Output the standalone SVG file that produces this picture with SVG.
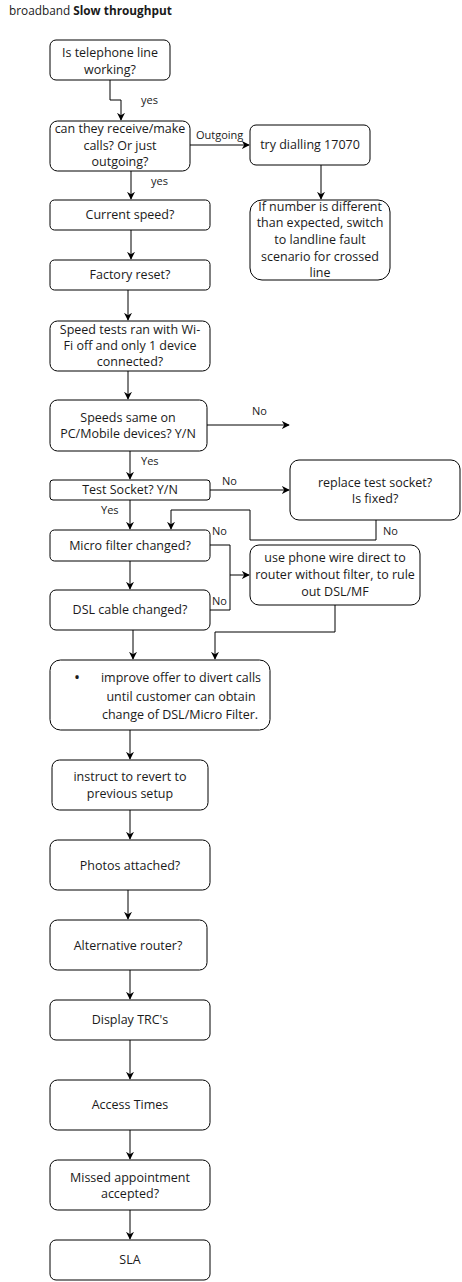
<svg xmlns="http://www.w3.org/2000/svg" width="462" height="1282" viewBox="0 0 462 1282">
<style>
.n rect{fill:#fff;stroke:#000;stroke-width:1}
text{font-family:"Open Sans","Noto Sans","Liberation Sans",sans-serif;font-size:12.5px;fill:#1a1a1a}
.c{text-anchor:middle}
.lbl{font-size:11px}
.e path{fill:none;stroke:#000;stroke-width:1;marker-end:url(#a)}
.e path.p{marker-end:none}
</style>
<defs>
<marker id="a" viewBox="0 0 10 10" refX="9" refY="5" markerWidth="8" markerHeight="8" markerUnits="userSpaceOnUse" orient="auto">
<path d="M0,0 L10,5 L0,10 L3,5 Z" fill="#000"/>
</marker>
</defs>
<text x="9" y="15" style="font-size:11.8px">broadband <tspan font-weight="bold">Slow throughput</tspan></text>

<g class="e" id="connectors">
<path d="M110,80 V100 H121 V120"/>
<path d="M131,171 V199"/>
<path d="M190,145 H249"/>
<path d="M321,165 V199"/>
<path d="M131,230 V259"/>
<path d="M128,290 V320"/>
<path d="M128,371 V399"/>
<path d="M207,425 H289"/>
<path d="M130,451 V479"/>
<path d="M210,490 H289"/>
<path d="M130,500 V529"/>
<path d="M376,520 V540 H250 V510 H171 V529"/>
<path d="M210,545 H230 V575 H249"/>
<path class="p" d="M210,610 H230 V575"/>
<path d="M130,561 V589"/>
<path d="M335,605 V632 H215 V659"/>
<path d="M133,630 V659"/>
<path d="M130,730 V759"/>
<path d="M130,810 V839"/>
<path d="M128,890 V919"/>
<path d="M130,970 V999"/>
<path d="M130,1040 V1079"/>
<path d="M130,1130 V1159"/>
<path d="M130,1210 V1239"/>
</g>
<g id="edge-labels">
<text class="lbl" x="141" y="104">yes</text>
<text class="lbl" x="151" y="185">yes</text>
<text class="lbl" x="196" y="139">Outgoing</text>
<text class="lbl" x="252" y="415">No</text>
<text class="lbl" x="141" y="465">Yes</text>
<text class="lbl" x="222" y="485">No</text>
<text class="lbl" x="101" y="514">Yes</text>
<text class="lbl" x="212" y="535">No</text>
<text class="lbl" x="383" y="535">No</text>
<text class="lbl" x="212" y="605">No</text>
</g>

<g class="n" id="n1"><rect x="50" y="40" width="120" height="40" rx="6"/>
<text class="c" x="110" y="57">Is telephone line</text><text class="c" x="110" y="74">working?</text></g>
<g class="n" id="n2"><rect x="50" y="121" width="140" height="50" rx="7.5"/>
<text class="c" x="120" y="133">can they receive/make</text><text class="c" x="120" y="150">calls? Or just</text><text class="c" x="120" y="166">outgoing?</text></g>
<g class="n" id="n3"><rect x="250" y="125" width="120" height="40" rx="6"/>
<text class="c" x="310" y="149">try dialling 17070</text></g>
<g class="n" id="n4"><rect x="250" y="200" width="140" height="80" rx="12"/>
<text class="c" x="320" y="211">If number is different</text><text class="c" x="320" y="227">than expected, switch</text><text class="c" x="320" y="244">to landline fault</text><text class="c" x="320" y="261">scenario for crossed</text><text class="c" x="320" y="277">line</text></g>
<g class="n" id="n5"><rect x="50" y="200" width="160" height="30" rx="4.5"/>
<text class="c" x="130" y="219">Current speed?</text></g>
<g class="n" id="n6"><rect x="50" y="260" width="160" height="30" rx="4.5"/>
<text class="c" x="130" y="279">Factory reset?</text></g>
<g class="n" id="n7"><rect x="50" y="321" width="160" height="50" rx="7.5"/>
<text class="c" x="130" y="334">Speed tests ran with Wi-</text><text class="c" x="130" y="350">Fi off and only 1 device</text><text class="c" x="130" y="366">connected?</text></g>
<g class="n" id="n8"><rect x="50" y="400" width="157" height="51" rx="7.5"/>
<text class="c" x="128" y="422">Speeds same on</text><text class="c" x="128" y="438">PC/Mobile devices? Y/N</text></g>
<g class="n" id="n9"><rect x="50" y="480" width="160" height="20" rx="3"/>
<text class="c" x="130" y="494">Test Socket? Y/N</text></g>
<g class="n" id="n10"><rect x="290" y="460" width="170" height="60" rx="9"/>
<text class="c" x="375" y="487">replace test socket?</text><text class="c" x="375" y="503">Is fixed?</text></g>
<g class="n" id="n11"><rect x="50" y="530" width="160" height="31" rx="4.5"/>
<text class="c" x="130" y="550">Micro filter changed?</text></g>
<g class="n" id="n12"><rect x="50" y="590" width="160" height="40" rx="6"/>
<text class="c" x="130" y="614">DSL cable changed?</text></g>
<g class="n" id="n13"><rect x="250" y="545" width="170" height="60" rx="9"/>
<text class="c" x="335" y="562">use phone wire direct to</text><text class="c" x="335" y="579">router without filter, to rule</text><text class="c" x="335" y="596">out DSL/MF</text></g>
<g class="n" id="n14"><rect x="50" y="660" width="220" height="70" rx="10.5"/>
<text x="74" y="683" style="font-size:16px">•</text>
<text class="c" x="181" y="682">improve offer to divert calls</text><text class="c" x="181" y="701">until customer can obtain</text><text class="c" x="180" y="719">change of DSL/Micro Filter.</text></g>
<g class="n" id="n15"><rect x="52" y="760" width="156" height="50" rx="7.5"/>
<text class="c" x="130" y="781">instruct to revert to</text><text class="c" x="130" y="798">previous setup</text></g>
<g class="n" id="n16"><rect x="50" y="840" width="160" height="50" rx="7.5"/>
<text class="c" x="130" y="870">Photos attached?</text></g>
<g class="n" id="n17"><rect x="50" y="920" width="157" height="50" rx="7.5"/>
<text class="c" x="128" y="950">Alternative router?</text></g>
<g class="n" id="n18"><rect x="50" y="1000" width="160" height="40" rx="6"/>
<text class="c" x="130" y="1024">Display TRC's</text></g>
<g class="n" id="n19"><rect x="50" y="1080" width="160" height="50" rx="7.5"/>
<text class="c" x="130" y="1109">Access Times</text></g>
<g class="n" id="n20"><rect x="50" y="1160" width="160" height="50" rx="7.5"/>
<text class="c" x="130" y="1182">Missed appointment</text><text class="c" x="130" y="1198">accepted?</text></g>
<g class="n" id="n21"><rect x="50" y="1240" width="160" height="40" rx="6"/>
<text class="c" x="130" y="1264">SLA</text></g>
</svg>
